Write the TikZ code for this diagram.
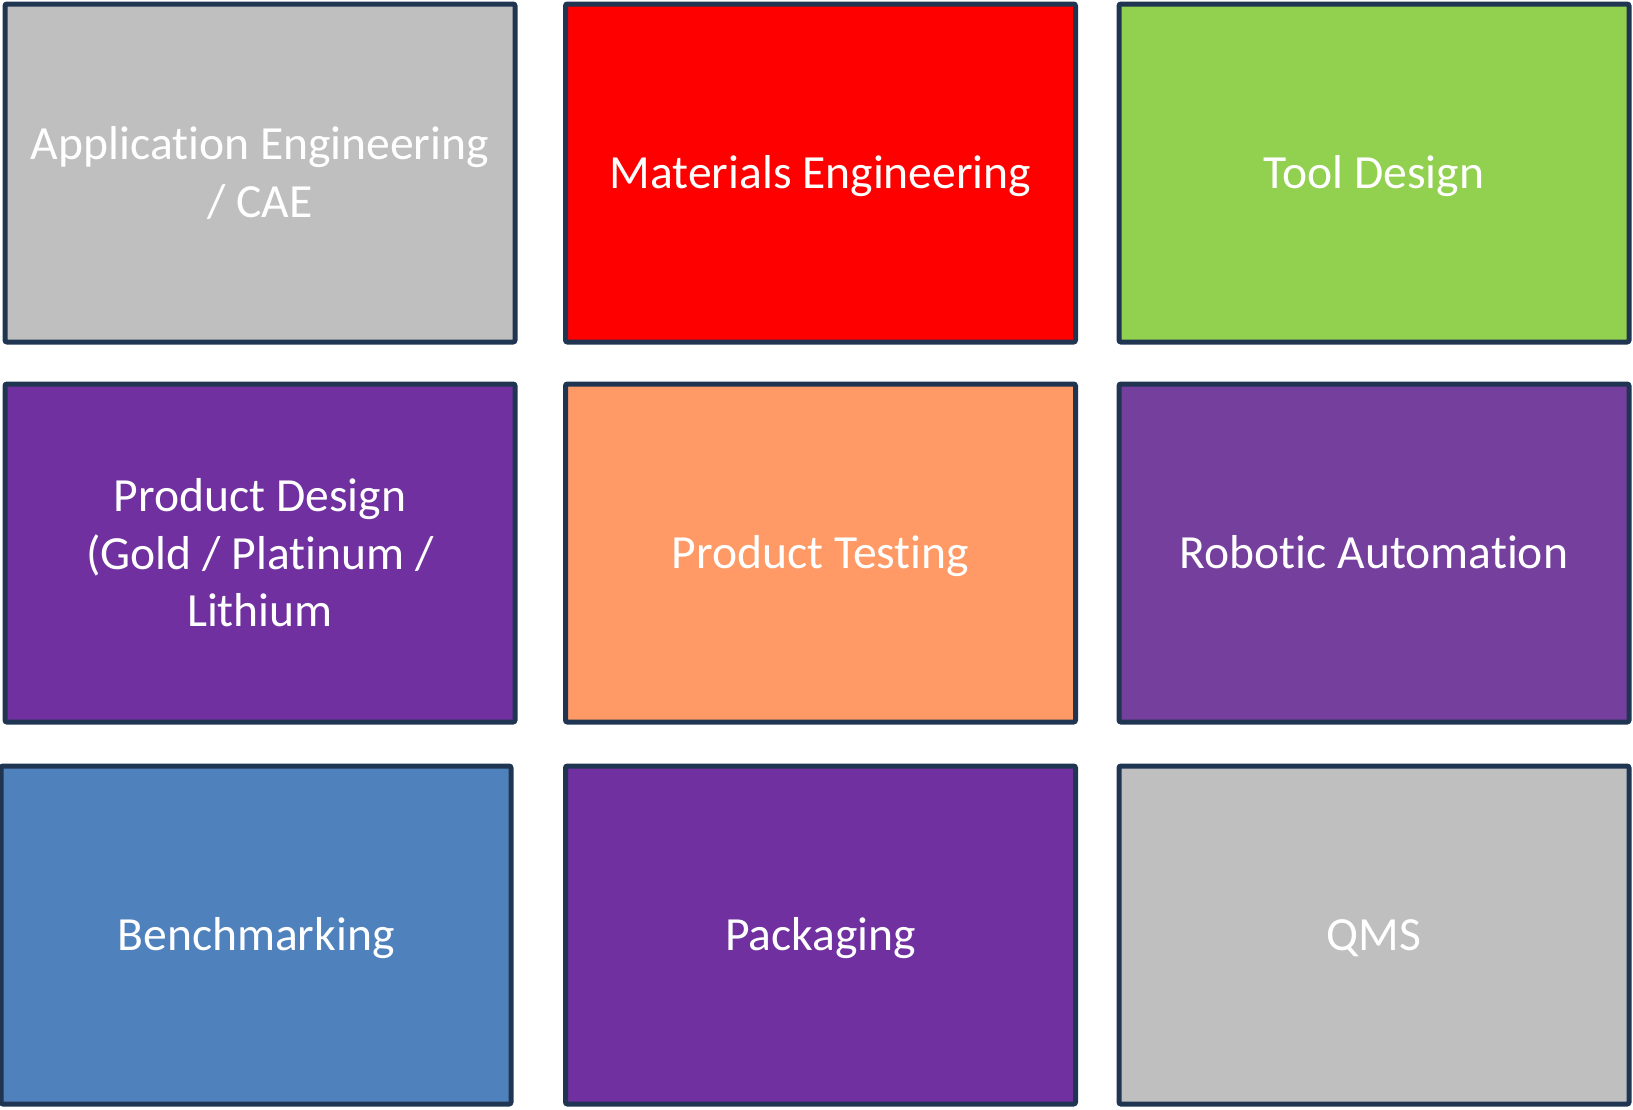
\documentclass[tikz,border=0pt]{standalone}
\usepackage{fontspec}
\setmainfont{Carlito}[Ligatures=NoCommon]
\newcommand{\nolig}{\kern0pt{}}
\definecolor{edge}{HTML}{1F3551}
\definecolor{cgray}{HTML}{BFBFBF}
\definecolor{cred}{HTML}{FF0000}
\definecolor{cgreen}{HTML}{92D050}
\definecolor{cpurple}{HTML}{7030A0}
\definecolor{corange}{HTML}{FF9A66}
\definecolor{cpurpleb}{HTML}{753F9D}
\definecolor{cblue}{HTML}{4F81BD}
\begin{document}
\begin{tikzpicture}[x=0.5pt,y=-0.5pt,
  tile/.style={draw=edge, line width=2.5pt, rounded corners=1pt,
    minimum width=255pt, minimum height=169pt, inner sep=0pt,
    text=white, align=center,
    font=\fontsize{23.8}{28.8}\selectfont},
  oneline/.style={text height=15.3pt, text depth=0pt}]
\useasboundingbox (0,0) rectangle (1633,1109);
\node[tile, fill=cgray]   (app)   at (260,173)    {Applicat\nolig ion Engineering\\/ CAE};
\node[tile, oneline, fill=cred]    (mat)   at (820.5,173)  {Materials Engineering};
\node[tile, oneline, fill=cgreen]  (tool)  at (1374,173)   {Tool Design};
\node[tile, fill=cpurple] (pd)    at (260,553)    {Product Design\\(Gold / Platinum /\\Lithium};
\node[tile, oneline, fill=corange] (pt)    at (820.5,553)  {Product Test\nolig ing};
\node[tile, oneline, fill=cpurpleb](robot) at (1374,553)   {Robot\nolig ic Automat\nolig ion};
\node[tile, oneline, fill=cblue]   (bench) at (256,935)    {Benchmarking};
\node[tile, oneline, fill=cpurple] (pack)  at (820.5,935)  {Packaging};
\node[tile, oneline, fill=cgray]   (qms)   at (1374,935)   {QMS};
\end{tikzpicture}
\end{document}
